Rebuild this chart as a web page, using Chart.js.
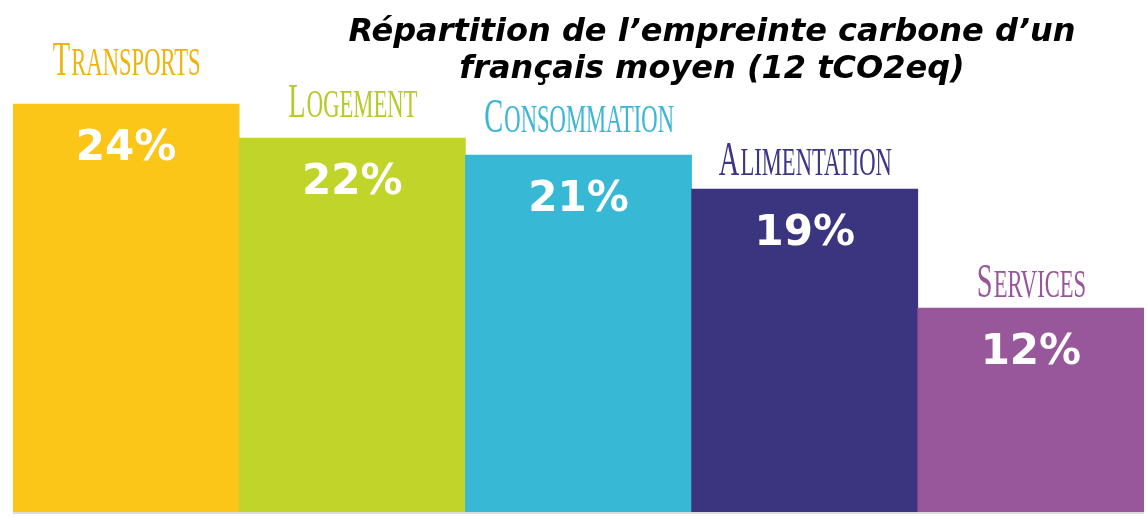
<!DOCTYPE html>
<html>
<head>
<meta charset="utf-8">
<script src="https://cdn.jsdelivr.net/npm/chart.js@4/dist/chart.umd.min.js"></script>
<style>
  html, body { margin: 0; padding: 0; background: #fff; }
  #wrap { width: 1146px; height: 517px; position: relative; }
</style>
</head>
<body>
<div id="wrap"><canvas id="c"></canvas></div>
<script>
const categories = ["Transports", "Logement", "Consommation", "Alimentation", "Services"];
const shares = [24, 22, 21, 19, 12];
const barColors = ["#FBC618", "#C1D42A", "#37B8D5", "#3B3580", "#98569B"];
const labelColors = ["#EFB40A", "#B5CB2A", "#3BB7D6", "#3D3585", "#98569B"];
const titleLines = ["Répartition de l’empreinte carbone d’un", "français moyen (12 tCO2eq)"];

// gap between the category baseline and the bar top, as laid out in the picture
const labelGap = [29, 21, 23, 14, 11];

function drawSmallCaps(ctx, text, cx, baseline, color) {
    const first = text.charAt(0).toUpperCase();
    const rest = text.slice(1).toUpperCase();
    const squeeze = 0.58;
    ctx.save();
    ctx.fillStyle = color;
    ctx.textBaseline = "alphabetic";
    ctx.textAlign = "left";
    ctx.font = "49px 'Liberation Sans Narrow'";
    const w1 = ctx.measureText(first).width;
    ctx.font = "39px 'Liberation Sans Narrow'";
    const w2 = ctx.measureText(rest).width;
    const total = (w1 + w2) * squeeze;
    ctx.translate(cx - total / 2, baseline);
    ctx.scale(squeeze, 1);
    ctx.font = "49px 'Liberation Sans Narrow'";
    ctx.fillText(first, 0, 0);
    ctx.font = "39px 'Liberation Sans Narrow'";
    ctx.fillText(rest, w1 + 2, 0);
    ctx.restore();
}

const labelsPlugin = {
    id: "labels",
    afterDatasetsDraw: function (chart) {
        const ctx = chart.ctx;
        const meta = chart.getDatasetMeta(0);
        meta.data.forEach(function (bar, i) {
            ctx.save();
            ctx.textAlign = "center";
            ctx.textBaseline = "middle";
            ctx.fillStyle = "#fff";
            ctx.font = "bold 42px 'DejaVu Sans'";
            ctx.fillText(shares[i] + "%", bar.x, bar.y + 45);
            ctx.restore();
            drawSmallCaps(ctx, categories[i], bar.x, bar.y - labelGap[i], labelColors[i]);
        });
    },
    afterDraw: function (chart) {
        const ctx = chart.ctx;
        const area = chart.chartArea;
        ctx.save();
        ctx.strokeStyle = "#dcdcdc";
        ctx.lineWidth = 2;
        ctx.beginPath();
        ctx.moveTo(area.left, area.bottom + 1);
        ctx.lineTo(area.right, area.bottom + 1);
        ctx.stroke();

        ctx.fillStyle = "#000";
        ctx.font = "bold oblique 32px 'DejaVu Sans'";
        ctx.textAlign = "center";
        ctx.textBaseline = "alphabetic";
        ctx.fillText(titleLines[0], 712, 41);
        ctx.fillText(titleLines[1], 712, 78);
        ctx.restore();
    }
};

new Chart(document.getElementById("c"), {
    type: "bar",
    data: {
        labels: categories,
        datasets: [{
            data: shares,
            backgroundColor: barColors,
            borderWidth: 0,
            categoryPercentage: 1,
            barPercentage: 1
        }]
    },
    options: {
        responsive: true,
        maintainAspectRatio: false,
        animation: false,
        layout: { padding: { left: 13, right: 2, top: 0, bottom: 5 } },
        scales: {
            x: { display: false },
            y: { display: false, min: 0, max: 30.12 }
        },
        plugins: {
            legend: { display: false },
            tooltip: { enabled: false }
        }
    },
    plugins: [labelsPlugin]
});
</script>
</body>
</html>
